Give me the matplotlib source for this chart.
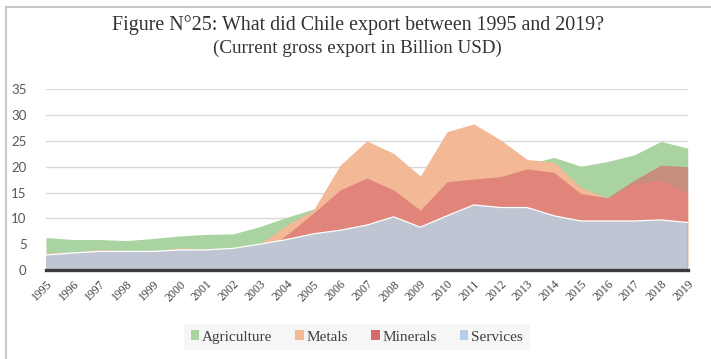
import matplotlib
matplotlib.use("Agg")
import matplotlib.pyplot as plt
from matplotlib.patches import Patch
from matplotlib.lines import Line2D

years = list(range(1995, 2020))

agriculture = [6.3, 5.9, 5.9, 5.7, 6.1, 6.6, 6.9, 7.0, 8.4, 10.2, 11.8,
               13.0, 14.0, 15.0, 14.0, 16.0, 18.0, 19.0, 20.5,
               21.8, 20.1, 21.0, 22.3, 24.9, 23.6]
metals = [3.3, 3.4, 4.0, 3.7, 3.7, 4.3, 4.0, 4.2, 5.0, 8.7, 11.6,
          20.3, 25.0, 22.6, 18.2, 26.8, 28.3, 25.2, 21.4,
          20.9, 16.0, 13.9, 16.8, 17.4, 14.8]
minerals = [1.2, 1.3, 1.5, 1.4, 1.5, 1.8, 1.9, 2.2, 3.0, 6.8, 11.0,
            15.5, 17.8, 15.5, 11.6, 17.1, 17.6, 18.1, 19.6,
            18.9, 14.8, 14.0, 17.4, 20.3, 20.0]
services = [2.9, 3.3, 3.6, 3.6, 3.6, 3.9, 3.9, 4.2, 5.0, 5.9, 7.0,
            7.7, 8.7, 10.3, 8.3, 10.5, 12.6, 12.1, 12.1,
            10.5, 9.5, 9.5, 9.5, 9.7, 9.2]

series = ["Agriculture", "Metals", "Minerals", "Services"]
colors = {"Agriculture": "#a9d3a0", "Metals": "#f3b896",
          "Minerals": "#d8686b", "Services": "#bfc5d3"}

title1 = "Figure N°25: What did Chile export between 1995 and 2019?"
title2 = "(Current gross export in Billion USD)"

serif = ["Liberation Serif", "DejaVu Serif"]

fig = plt.figure(figsize=(7.11, 3.59), dpi=100)
fig.patch.set_facecolor("white")
ax = fig.add_axes([46 / 711, 1 - 270 / 359, (687.7 - 46) / 711, (270 - 89.3) / 359])

# overlapping (non-stacked) areas, back to front
ax.fill_between(years, 0, agriculture, color=colors["Agriculture"], lw=0, zorder=2)
ax.fill_between(years, 0, metals, color=colors["Metals"], lw=0, zorder=3)
ax.fill_between(years, 0, minerals, color=colors["Minerals"], alpha=0.65, lw=0, zorder=4)
ax.fill_between(years, 0, services, facecolor=colors["Services"], edgecolor="none", zorder=5)
ax.plot(years, services, color="white", lw=0.9, zorder=6)

ax.set_xlim(1995, 2019)
ax.set_ylim(0, 35)
ax.set_yticks(range(0, 36, 5))
ax.yaxis.grid(True, color="#d9d9d9", lw=1.0, zorder=1)
ax.set_axisbelow(True)
ax.axhline(0, color="#3a3a3a", lw=2.4, zorder=8, clip_on=False)
for s in ax.spines.values():
    s.set_visible(False)
ax.tick_params(axis="both", length=0)
ax.tick_params(axis="y", pad=14, labelsize=9.5, labelcolor="#595959")
for lbl in ax.get_yticklabels():
    lbl.set_family(["Lato", "DejaVu Sans"])

ax.set_xticks(years)
ax.set_xticklabels([str(y) for y in years], rotation=45, ha="right", va="top",
                   rotation_mode="anchor", family=serif, fontsize=8.5, color="#404040")
ax.tick_params(axis="x", pad=6)

fig.text(0.503, 1 - 25 / 359, title1, ha="center", va="center",
         family=serif, fontsize=14.4, color="#333333")
fig.text(0.503, 1 - 48 / 359, title2, ha="center", va="center",
         family=serif, fontsize=13.7, color="#333333")

handles = [Patch(facecolor=colors[s], edgecolor="none") for s in series]
handles[3] = Patch(facecolor="#b5cde6", edgecolor="none")
leg = fig.legend(handles, series, loc="center", bbox_to_anchor=(0.502, 1 - 337 / 359),
                 ncol=4, frameon=True, facecolor="#f4f4f4", edgecolor="none",
                 handlelength=0.55, handleheight=0.55, handletextpad=0.2,
                 columnspacing=1.5, borderpad=0.45, fancybox=False,
                 prop={"family": serif, "size": 11})
for t in leg.get_texts():
    t.set_color("#404040")

# frame lines along the top and left edge of the figure
fig.add_artist(Line2D([6 / 711, 1], [1 - 7 / 359, 1 - 7 / 359], color="#c4c4c4", lw=1.3))
fig.add_artist(Line2D([6 / 711, 6 / 711], [0, 1 - 7 / 359], color="#c4c4c4", lw=1.3))

fig.savefig("out.png", dpi=100, facecolor="white")
